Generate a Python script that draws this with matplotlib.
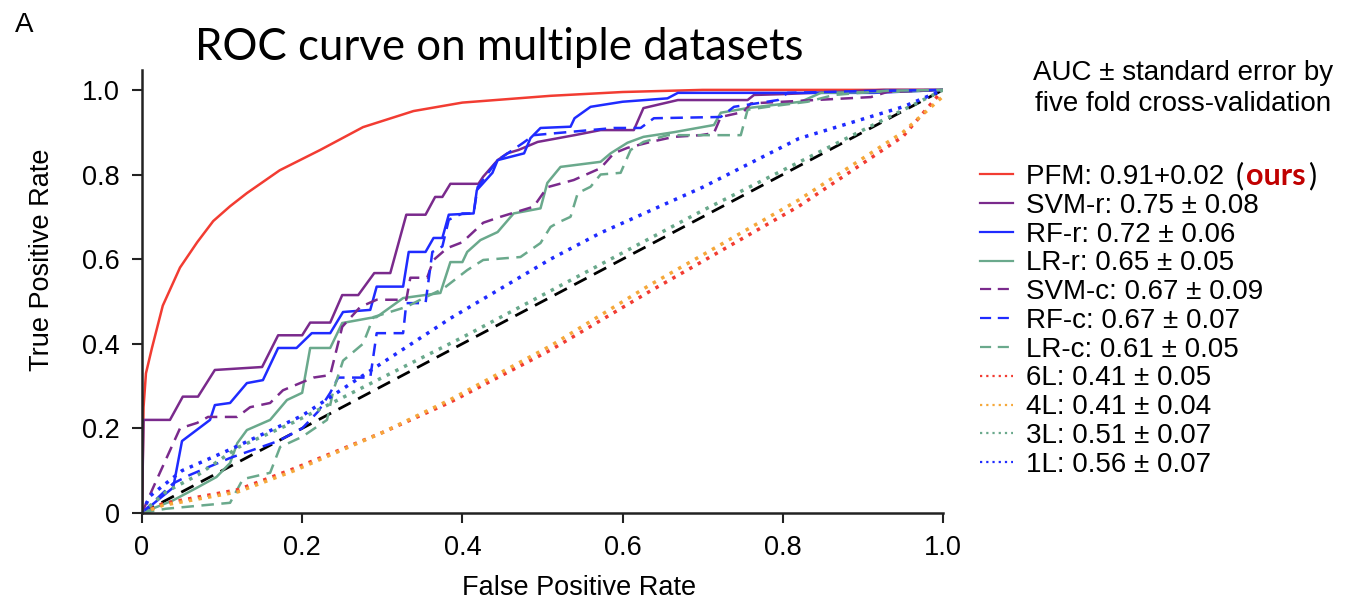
import matplotlib
matplotlib.use("Agg")
import matplotlib.pyplot as plt

plt.rcParams['font.family'] = ['Liberation Sans', 'DejaVu Sans']

# ROC curves (fpr, tpr vertices)
pfm_fpr = [0, 0.002, 0.005, 0.0125, 0.026, 0.0475, 0.069, 0.089, 0.11, 0.131, 0.172, 0.2225, 0.276, 0.339, 0.40, 0.51, 0.60, 0.70, 1.0]
pfm_tpr = [0, 0.25, 0.33, 0.39, 0.49, 0.58, 0.64, 0.69, 0.725, 0.756, 0.81, 0.858, 0.912, 0.95, 0.97, 0.986, 0.995, 1.0, 1.0]

svmr_fpr = [0, 0.002, 0.035, 0.051, 0.07, 0.091, 0.15, 0.17, 0.20, 0.21, 0.235, 0.25, 0.27, 0.29, 0.31, 0.33, 0.354, 0.366, 0.375,
            0.385, 0.42, 0.426, 0.444, 0.456, 0.47, 0.494, 0.54, 0.5725, 0.614, 0.626, 0.669, 0.756, 0.764, 0.80, 0.926, 1.0]
svmr_tpr = [0, 0.22, 0.22, 0.275, 0.275, 0.338, 0.345, 0.42, 0.42, 0.45, 0.45, 0.515, 0.515, 0.567, 0.567, 0.705, 0.705, 0.747, 0.747,
            0.778, 0.778, 0.795, 0.834, 0.85, 0.858, 0.877, 0.893, 0.905, 0.905, 0.957, 0.976, 0.976, 0.988, 0.99, 1.0, 1.0]

rfr_fpr = [0, 0.039, 0.05, 0.085, 0.091, 0.11, 0.131, 0.151, 0.17, 0.193, 0.212, 0.235, 0.251, 0.285, 0.293, 0.326, 0.333, 0.354,
           0.364, 0.375, 0.383, 0.414, 0.418, 0.4375, 0.444, 0.477, 0.485, 0.4975, 0.535, 0.54, 0.56, 0.60, 0.656, 0.669, 0.914, 1.0]
rfr_tpr = [0, 0.06, 0.17, 0.22, 0.255, 0.26, 0.307, 0.314, 0.39, 0.39, 0.425, 0.425, 0.475, 0.48, 0.535, 0.535, 0.617, 0.617,
           0.65, 0.65, 0.705, 0.708, 0.763, 0.804, 0.834, 0.85, 0.886, 0.91, 0.913, 0.933, 0.96, 0.972, 0.98, 0.993, 0.993, 1.0]

lrr_fpr = [0, 0.039, 0.069, 0.093, 0.11, 0.119, 0.131, 0.16, 0.181, 0.20, 0.21, 0.235, 0.25, 0.285, 0.293, 0.326, 0.3725, 0.385,
           0.40, 0.406, 0.4225, 0.444, 0.464, 0.4975, 0.506, 0.5225, 0.5725, 0.585, 0.606, 0.626, 0.664, 0.714, 0.7225, 0.756,
           0.8225, 0.8475, 0.95, 1.0]
lrr_tpr = [0, 0.03, 0.06, 0.085, 0.118, 0.165, 0.196, 0.22, 0.267, 0.284, 0.39, 0.39, 0.449, 0.461, 0.463, 0.508, 0.52, 0.593,
           0.593, 0.617, 0.645, 0.664, 0.708, 0.72, 0.78, 0.818, 0.83, 0.85, 0.875, 0.889, 0.90, 0.917, 0.946, 0.957,
           0.972, 0.993, 0.996, 1.0]

svmc_fpr = [0, 0.014, 0.0475, 0.069, 0.0825, 0.119, 0.135, 0.16, 0.176, 0.214, 0.235, 0.25, 0.2725, 0.293, 0.33, 0.335, 0.356,
            0.364, 0.381, 0.40, 0.426, 0.4475, 0.489, 0.506, 0.539, 0.5725, 0.589, 0.606, 0.635, 0.664, 0.6975, 0.714, 0.7225,
            0.751, 0.76, 0.91, 0.93, 1.0]
svmc_tpr = [0, 0.06, 0.20, 0.213, 0.227, 0.227, 0.25, 0.26, 0.29, 0.32, 0.326, 0.44, 0.487, 0.504, 0.504, 0.556, 0.556,
            0.598, 0.626, 0.64, 0.686, 0.70, 0.724, 0.77, 0.787, 0.815, 0.85, 0.863, 0.877, 0.889, 0.893, 0.898, 0.936,
            0.948, 0.968, 0.983, 0.995, 1.0]

rfc_fpr = [0, 0.026, 0.039, 0.06, 0.11, 0.17, 0.20, 0.22, 0.235, 0.245, 0.285, 0.293, 0.326, 0.33, 0.354, 0.3625, 0.375, 0.383,
           0.40, 0.414, 0.419, 0.444, 0.476, 0.489, 0.589, 0.6225, 0.639, 0.7225, 0.739, 0.794, 0.806, 0.9, 1.0]
rfc_tpr = [0, 0.047, 0.07, 0.09, 0.13, 0.17, 0.20, 0.24, 0.284, 0.32, 0.32, 0.425, 0.425, 0.496, 0.496, 0.617, 0.63, 0.693,
           0.708, 0.708, 0.77, 0.834, 0.875, 0.893, 0.91, 0.91, 0.933, 0.936, 0.96, 0.976, 0.993, 0.997, 1.0]

lrc_fpr = [0, 0.03, 0.11, 0.126, 0.16, 0.1725, 0.20, 0.231, 0.239, 0.251, 0.276, 0.289, 0.33, 0.3475, 0.376, 0.406, 0.426,
           0.4725, 0.4975, 0.51, 0.519, 0.535, 0.544, 0.56, 0.5725, 0.5975, 0.61, 0.626, 0.656, 0.7475, 0.756, 0.781, 0.831,
           0.864, 0.93, 1.0]
lrc_tpr = [0, 0.01, 0.024, 0.08, 0.095, 0.156, 0.18, 0.22, 0.29, 0.36, 0.40, 0.463, 0.487, 0.504, 0.53, 0.574, 0.598,
           0.605, 0.638, 0.676, 0.686, 0.70, 0.756, 0.771, 0.80, 0.804, 0.858, 0.877, 0.893, 0.893, 0.953, 0.96, 0.972,
           0.988, 0.998, 1.0]

l6_fpr = [0, 0.026, 0.12, 0.19, 0.30, 0.385, 0.51, 0.635, 0.70, 0.82, 0.95, 1.0]
l6_tpr = [0, 0.022, 0.055, 0.105, 0.19, 0.262, 0.385, 0.525, 0.595, 0.725, 0.89, 1.0]

l4_fpr = [0, 0.026, 0.12, 0.19, 0.30, 0.385, 0.51, 0.635, 0.70, 0.82, 0.95, 1.0]
l4_tpr = [0, 0.018, 0.05, 0.10, 0.19, 0.268, 0.395, 0.54, 0.61, 0.74, 0.90, 0.985]

l3_fpr = [0, 0.03, 0.07, 0.12, 0.19, 0.30, 0.40, 0.50, 0.60, 0.70, 0.80, 0.90, 1.0]
l3_tpr = [0, 0.05, 0.09, 0.155, 0.215, 0.32, 0.415, 0.515, 0.615, 0.715, 0.81, 0.905, 1.0]

l1_fpr = [0, 0.01, 0.05, 0.11, 0.20, 0.28, 0.385, 0.51, 0.5725, 0.70, 0.82, 0.95, 1.0]
l1_tpr = [0, 0.04, 0.10, 0.15, 0.23, 0.33, 0.46, 0.60, 0.662, 0.77, 0.885, 0.96, 1.0]

labels = ["PFM: 0.91+0.02", "SVM-r: 0.75 \u00b1 0.08", "RF-r: 0.72 \u00b1 0.06", "LR-r: 0.65 \u00b1 0.05",
          "SVM-c: 0.67 \u00b1 0.09", "RF-c: 0.67 \u00b1 0.07", "LR-c: 0.61 \u00b1 0.05", "6L: 0.41 \u00b1 0.05",
          "4L: 0.41 \u00b1 0.04", "3L: 0.51 \u00b1 0.07", "1L: 0.56 \u00b1 0.07"]

RED = '#f23c32'
PURPLE = '#7a2a8c'
BLUE = '#1f2bff'
GREEN = '#6aa98c'
ORANGE = '#f5a83a'
DOT = (1, 1.8)
DASH = (5, 3)

fig = plt.figure(figsize=(13.48, 6.03), dpi=100)
ax = fig.add_axes([0.1053, 0.1493, 0.5943, 0.7346])

ax.plot([0, 1], [0, 1], color='black', lw=2, dashes=DASH, zorder=1)
lines = []
lines += ax.plot(pfm_fpr, pfm_tpr, color=RED, lw=1.8)
lines += ax.plot(svmr_fpr, svmr_tpr, color=PURPLE, lw=1.8)
lines += ax.plot(rfr_fpr, rfr_tpr, color=BLUE, lw=1.8)
lines += ax.plot(lrr_fpr, lrr_tpr, color=GREEN, lw=1.8)
lines += ax.plot(svmc_fpr, svmc_tpr, color=PURPLE, lw=1.8, dashes=DASH)
lines += ax.plot(rfc_fpr, rfc_tpr, color=BLUE, lw=1.8, dashes=DASH)
lines += ax.plot(lrc_fpr, lrc_tpr, color=GREEN, lw=1.8, dashes=DASH)
lines += ax.plot(l6_fpr, l6_tpr, color=RED, lw=2.5, dashes=DOT)
lines += ax.plot(l4_fpr, l4_tpr, color=ORANGE, lw=2.5, dashes=DOT)
lines += ax.plot(l3_fpr, l3_tpr, color=GREEN, lw=2.5, dashes=DOT)
lines += ax.plot(l1_fpr, l1_tpr, color=BLUE, lw=2.5, dashes=DOT)

ax.set_xlim(0, 1.0)
ax.set_ylim(0, 1.047)
ticks = [0, 0.2, 0.4, 0.6, 0.8, 1.0]
tick_labels = ["0", "0.2", "0.4", "0.6", "0.8", "1.0"]
ax.set_xticks(ticks)
ax.set_xticklabels(tick_labels)
ax.set_yticks(ticks)
ax.set_yticklabels(tick_labels)
for s in ['top', 'right']:
    ax.spines[s].set_visible(False)
for s in ['left', 'bottom']:
    ax.spines[s].set_linewidth(1.8)
    ax.spines[s].set_color('#222222')
ax.tick_params(length=7, width=1.5, pad=9, labelsize=19.5, color='#222222')
ax.set_xlabel("False Positive Rate", fontsize=19.5)
ax.xaxis.set_label_coords(0.546, -0.14)
ax.set_ylabel("True Positive Rate", fontsize=19.5)
ax.yaxis.set_label_coords(-0.108, 0.571)

fig.text(0.37, 0.922, "ROC curve on multiple datasets", fontsize=31.5, family=['Lato', 'DejaVu Sans'],
         ha='center', va='center')
fig.text(0.011, 0.958, "A", fontsize=20, ha='left', va='center')
fig.text(0.878, 0.853, "AUC \u00b1 standard error by\nfive fold cross-validation", fontsize=20,
         ha='center', va='center', linespacing=1.25)

leg = fig.legend(lines, labels, loc='upper left', bbox_to_anchor=(0.727, 0.728), frameon=False,
                 fontsize=20, handlelength=1.2, handletextpad=0.45, labelspacing=0.1, borderpad=0,
                 borderaxespad=0)
for h in leg.get_lines():
    h.set_linewidth(1.6)

# "(ours)" after the PFM entry
fig.canvas.draw()
r = fig.canvas.get_renderer()
W, H = fig.bbox.width, fig.bbox.height
bb = leg.get_texts()[0].get_window_extent(r)
x = bb.x1 + 12
for s, kw in [("(", {}), ("ours", dict(fontweight='bold', color='#c00000')), (")", {})]:
    t = fig.text(x / W, bb.y0 / H, s, fontsize=22, family=['Lato', 'DejaVu Sans'], ha='left', va='bottom', **kw)
    x = t.get_window_extent(r).x1 + 2

fig.savefig("out.png", dpi=100)
